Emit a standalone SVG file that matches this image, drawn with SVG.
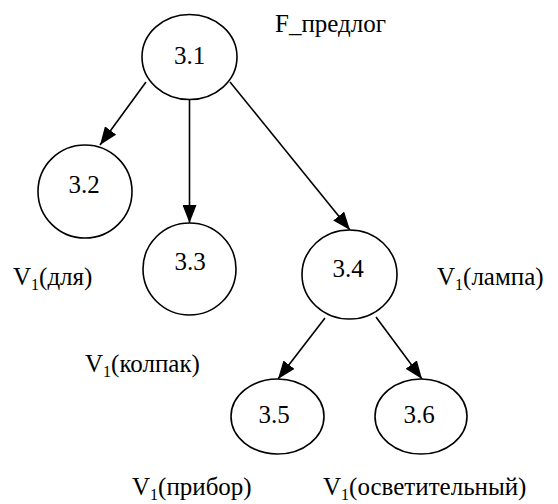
<svg xmlns="http://www.w3.org/2000/svg" width="558" height="504" viewBox="0 0 558 504">
<style>
.n{fill:#fff;stroke:#000;stroke-width:1.6}
.e{stroke:#000;stroke-width:1.6;fill:none}
text{font-family:"Liberation Serif","Times New Roman",serif;font-size:25px;fill:#000}
.c{text-anchor:middle}
.s{font-size:16px}
</style>
<defs>
<marker id="ah" viewBox="0 0 18 14" refX="18" refY="7" markerWidth="18" markerHeight="14" markerUnits="userSpaceOnUse" orient="auto">
<path d="M0,0 L18,7 L0,14 Z" fill="#000"/>
</marker>
</defs>
<g id="edges">
<line class="e" x1="146" y1="82" x2="100" y2="145" marker-end="url(#ah)"/>
<line class="e" x1="189.5" y1="100" x2="189.5" y2="223" marker-end="url(#ah)"/>
<line class="e" x1="230" y1="82" x2="350" y2="230" marker-end="url(#ah)"/>
<line class="e" x1="325" y1="318" x2="278" y2="379" marker-end="url(#ah)"/>
<line class="e" x1="376" y1="317" x2="422" y2="379" marker-end="url(#ah)"/>
</g>
<g id="n31"><ellipse class="n" cx="189.5" cy="57" rx="47.5" ry="42.5"/><text class="c" x="189.5" y="64">3.1</text></g>
<g id="n32"><ellipse class="n" cx="85" cy="191.5" rx="47" ry="46.5"/><text class="c" x="84" y="193">3.2</text></g>
<g id="n33"><ellipse class="n" cx="189.5" cy="269" rx="46.5" ry="46"/><text class="c" x="190" y="270">3.3</text></g>
<g id="n34"><ellipse class="n" cx="349.5" cy="274.5" rx="47.5" ry="44.5"/><text class="c" x="348" y="277">3.4</text></g>
<g id="n35"><ellipse class="n" cx="277.5" cy="416.5" rx="46.5" ry="37.5"/><text class="c" x="274" y="423">3.5</text></g>
<g id="n36"><ellipse class="n" cx="421" cy="416.5" rx="46" ry="37.5"/><text class="c" x="419" y="423">3.6</text></g>
<g id="labels">
<text x="275" y="32">F_предлог</text>
<text x="13" y="285">V<tspan class="s" dy="5">1</tspan><tspan dy="-5">(для)</tspan></text>
<text x="437" y="285">V<tspan class="s" dy="5">1</tspan><tspan dy="-5">(лампа)</tspan></text>
<text x="85" y="372">V<tspan class="s" dy="5">1</tspan><tspan dy="-5">(колпак)</tspan></text>
<text x="132" y="495">V<tspan class="s" dy="5">1</tspan><tspan dy="-5">(прибор)</tspan></text>
<text x="323" y="495">V<tspan class="s" dy="5">1</tspan><tspan dy="-5">(осветительный)</tspan></text>
</g>
</svg>
